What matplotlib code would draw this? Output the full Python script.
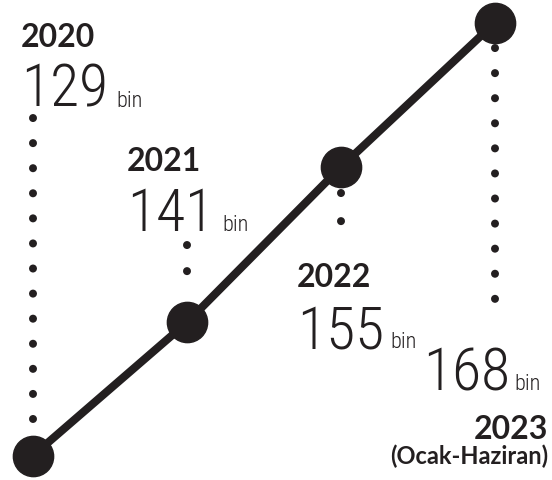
import matplotlib.pyplot as plt
from matplotlib.transforms import offset_copy

# ---- data ----
years = ['2020', '2021', '2022', '2023']
values = [129, 141, 155, 168]
value_labels = ['129', '141', '155', '168']
unit = 'bin'
period_note = '(Ocak-Haziran)'

INK = '#231f20'
NUM_FONT = ['Roboto Condensed', 'DejaVu Sans']
YEAR_FONT = ['Lato', 'DejaVu Sans']

W, H = 552, 481
fig = plt.figure(figsize=(W / 100, H / 100), dpi=100)
ax = fig.add_axes([0, 0, 1, 1])
ylo, yhi = 126.8, 170.13
ax.set_xlim(-0.214, 3.37)
ax.set_ylim(ylo, yhi)
ax.axis('off')
px_per_unit = H / (yhi - ylo)

x = list(range(len(values)))

# dotted leaders: (start offset px, end offset px, dot period px), + = up from point
leaders = [(337.6, 36.6, 25), (77.4, 25.4, 26), (-26.1, -82.1, 28), (-25.4, -300.4, 25)]
dot_px = 8
for i, (v, (a, b, period)) in enumerate(zip(values, leaders)):
    ax.plot([i, i], [v + a / px_per_unit, v + b / px_per_unit], color=INK,
            lw=dot_px * 0.72, linestyle=(0, (0.01, period / dot_px)),
            dash_capstyle='round', zorder=1)

# main line + markers
ax.plot(x, values, color=INK, lw=5.8, solid_capstyle='round', zorder=2)
ax.plot(x, values, 'o', ms=29, color=INK, mec=INK, zorder=3)

# labels (offsets in pixels from each point)
year_pos = [(-12, 409.6), (-60, 152.4), (-44, -119.1), (53, -415.4)]
year_ha = ['left', 'left', 'left', 'right']
num_pos = [(-12, 349.6), (-60, 92.4), (-44, -180.1), (-72, -366.4)]
bin_gap = [8, 8, 6, 4]

def at(dx, dy):
    return offset_copy(ax.transData, fig=fig, x=dx, y=dy, units='dots')

for i, v in enumerate(values):
    ax.text(i, v, years[i], transform=at(*year_pos[i]), ha=year_ha[i], va='baseline',
            fontsize=23, fontweight='bold', family=YEAR_FONT, color=INK)
    t = ax.text(i, v, value_labels[i], transform=at(*num_pos[i]), ha='left', va='baseline',
                fontsize=43, fontweight='light', family=NUM_FONT, color=INK)
    ax.annotate(unit, xy=(1, v), xycoords=(t, 'data'), xytext=(bin_gap[i], num_pos[i][1]),
                textcoords='offset pixels', ha='left', va='baseline',
                fontsize=16, fontweight='light', family=NUM_FONT, color=INK)

ax.text(3, values[3], period_note, transform=at(53, -440), ha='right', va='baseline',
        fontsize=17, fontweight='bold', family=YEAR_FONT, color=INK)

fig.savefig('out.png', dpi=100, facecolor='white')
